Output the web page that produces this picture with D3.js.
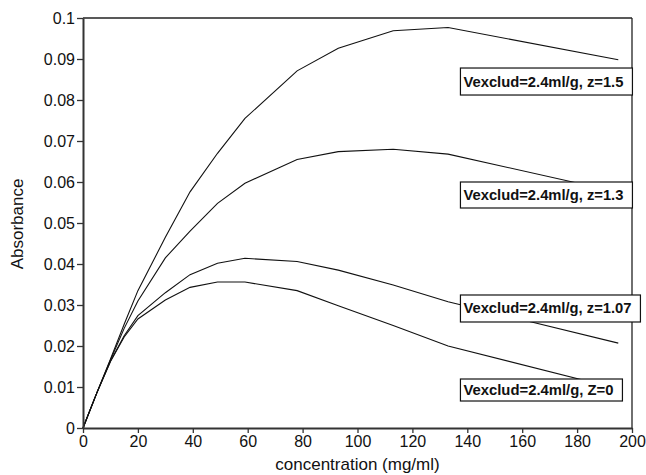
<!DOCTYPE html>
<html><head><meta charset="utf-8">
<script src="https://cdn.jsdelivr.net/npm/d3@7"></script>
<style>body{margin:0;background:#fff}svg{display:block}</style>
</head><body>
<svg id="chart" width="646" height="475"></svg>
<script>
// ---- data ----
const conc = [0, 5, 10, 15, 20, 30, 39, 49, 59, 78, 93, 113, 133, 195];
const absZ15  = [0, 0.0085, 0.0168, 0.0253, 0.0335, 0.0465, 0.0576, 0.0670, 0.0755, 0.0871, 0.0926, 0.0969, 0.0977, 0.0898];
const absZ13  = [0, 0.0085, 0.0166, 0.0243, 0.0310, 0.0415, 0.0480, 0.0548, 0.0597, 0.0655, 0.0674, 0.0680, 0.0668, 0.0575];
const absZ107 = [0, 0.0085, 0.0163, 0.0225, 0.0274, 0.0330, 0.0374, 0.0402, 0.0414, 0.0406, 0.0385, 0.0349, 0.0308, 0.0207];
const absZ0   = [0, 0.0085, 0.0162, 0.0222, 0.0266, 0.0312, 0.0343, 0.0356, 0.0356, 0.0335, 0.0298, 0.0250, 0.0200, 0.0095];
const seriesLabels = ["Vexclud=2.4ml/g, z=1.5", "Vexclud=2.4ml/g, z=1.3", "Vexclud=2.4ml/g, z=1.07", "Vexclud=2.4ml/g, Z=0"];
const xTicks = [0, 20, 40, 60, 80, 100, 120, 140, 160, 180, 200];
const yTicks = [0, 0.01, 0.02, 0.03, 0.04, 0.05, 0.06, 0.07, 0.08, 0.09, 0.1];
const yTickLabels = ["0", "0.01", "0.02", "0.03", "0.04", "0.05", "0.06", "0.07", "0.08", "0.09", "0.1"];
const xTitle = "concentration (mg/ml)";
const yTitle = "Absorbance";

// ---- layout ----
const L = 83, R = 632, T = 18, B = 428;
const svg = d3.select("#chart");
const x = d3.scaleLinear().domain([0, 200]).range([L, R]);
const y = d3.scaleLinear().domain([0, 0.1]).range([B, T]);
const font = "'Liberation Sans', Arial, sans-serif";

// curves
const allSeries = [absZ15, absZ13, absZ107, absZ0];
const line = d3.line().x((d, i) => x(conc[i])).y(d => y(d));
svg.append("g").selectAll("path").data(allSeries).join("path")
  .attr("d", d => line(d)).attr("fill", "none")
  .attr("stroke", "#111").attr("stroke-width", 1.1);

// frame top/right
svg.append("line").attr("x1", L).attr("x2", R).attr("y1", T).attr("y2", T)
  .attr("stroke", "#222").attr("stroke-width", 1.3);
svg.append("line").attr("x1", R).attr("x2", R).attr("y1", T).attr("y2", B)
  .attr("stroke", "#222").attr("stroke-width", 1.3);

// axes
const xAxis = svg.append("g").attr("transform", `translate(0,${B})`)
  .call(d3.axisBottom(x).tickValues(xTicks).tickSize(5).tickPadding(3).tickSizeOuter(0));
const yAxis = svg.append("g").attr("transform", `translate(${L},0)`)
  .call(d3.axisLeft(y).tickValues(yTicks).tickFormat((d, i) => yTickLabels[i]).tickSize(6).tickPadding(2).tickSizeOuter(0));
[xAxis, yAxis].forEach(g => {
  g.select(".domain").attr("stroke", "#333").attr("stroke-width", 2);
  g.selectAll(".tick line").attr("stroke", "#333").attr("stroke-width", 1.3);
  g.selectAll(".tick text").attr("fill", "#111").style("font-family", font).style("font-size", "16px");
});

// titles
svg.append("text").attr("x", (L + R) / 2).attr("y", 470).attr("text-anchor", "middle")
  .style("font-family", font).style("font-size", "17px").attr("fill", "#111").text(xTitle);
svg.append("text").attr("transform", "translate(23,224) rotate(-90)").attr("text-anchor", "middle")
  .style("font-family", font).style("font-size", "17px").attr("fill", "#111").text(yTitle);

// label boxes (data-anchored positions)
const boxY = [0.0878, 0.0600, 0.03244, 0.01195]; // box top in data units
const boxH = [27, 26, 27, 22];
const boxW = [172, 172, 180, 162];
const boxX0 = 137.5; // concentration at box left edge
const g = svg.append("g");
seriesLabels.forEach((lab, i) => {
  const bx = x(boxX0), by = y(boxY[i]);
  g.append("rect").attr("x", bx).attr("y", by).attr("width", boxW[i]).attr("height", boxH[i])
    .attr("fill", "#fff").attr("stroke", "#111").attr("stroke-width", 1.2);
  g.append("text").attr("x", bx + 3).attr("y", by + boxH[i] / 2 + 5)
    .style("font-family", font).style("font-size", "14px").style("font-weight", "bold")
    .attr("fill", "#111").attr("textLength", boxW[i] - 12 - (i === 3 ? 0 : 0)).attr("lengthAdjust", "spacingAndGlyphs").text(lab);
});
</script>
</body></html>
